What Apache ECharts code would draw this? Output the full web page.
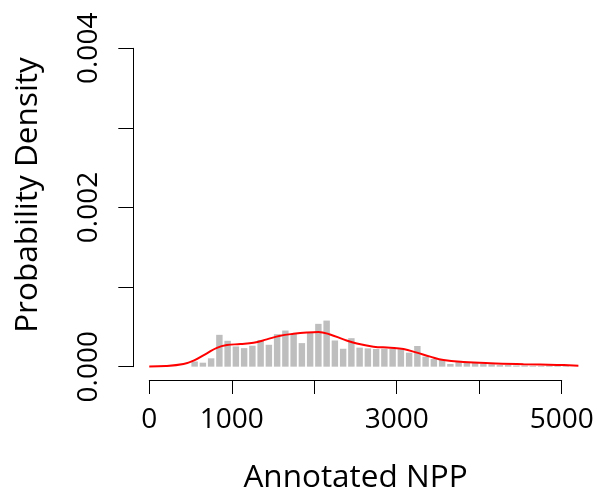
<!DOCTYPE html>
<html>
<head>
<meta charset="utf-8">
<script src="https://cdn.jsdelivr.net/npm/echarts@6/dist/echarts.min.js"></script>
<style>
html,body{margin:0;padding:0;background:#fff;}
#chart{width:603px;height:495px;}
</style>
</head>
<body>
<div id="chart"></div>
<script>
// Histogram bins (start of each 100-wide bin) and their densities
const binStarts = [500,600,700,800,900,1000,1100,1200,1300,1400,1500,1600,1700,1800,1900,2000,2100,2200,2300,2400,2500,2600,2700,2800,2900,3000,3100,3200,3300,3400,3500,3600,3700,3800,3900,4000,4100,4200,4300,4400,4500,4600,4700,4800,4900,5000];
const binDensity = [0.000065,0.00005,0.000105,0.0004,0.000325,0.000254,0.000233,0.000263,0.000335,0.000275,0.000408,0.000454,0.000413,0.000296,0.000434,0.000538,0.000579,0.000329,0.000225,0.000358,0.000239,0.00023,0.000222,0.000226,0.000222,0.000218,0.000176,0.00026,0.000126,0.000097,0.000084,0.000034,0.000072,0.00005,0.00005,0.000035,0.00003,0.00002,0.00002,0.000015,0.000015,0.00001,0.00001,0.000015,0.00001,0.000008];
const binWidth = 100;

// Kernel density curve
const densityX = [0,200,415,537,699,820,941,1102,1264,1425,1587,1748,1910,2051,2192,2354,2516,2718,2920,3082,3244,3405,3567,3809,4132,4536,4940,5202];
const densityY = [0.000002,0.000008,0.000034,0.000075,0.000168,0.000237,0.000271,0.000284,0.0003,0.000343,0.000388,0.000413,0.00043,0.000437,0.000405,0.000343,0.00029,0.000251,0.000238,0.000222,0.000176,0.000126,0.000084,0.000059,0.000043,0.000031,0.000022,0.000013];

const xTicks = [0,1000,2000,3000,4000,5000];
const xTickLabels = ['0','1000','','3000','','5000'];
const yTicks = [0,0.001,0.002,0.003,0.004];
const yTickLabels = ['0.000','','0.002','','0.004'];

// Plot-region limits (R-style 4% expansion around data range)
const xLim = [-208, 5408];
const yLim = [-0.00016, 0.00416];

const FONT = 'Open Sans';
const chart = echarts.init(document.getElementById('chart'), null, {renderer:'canvas'});

const histData = binStarts.map((s,i)=>[s, binDensity[i]]);
const curveData = densityX.map((x,i)=>[x, densityY[i]]);

function lookup(ticks, labels, v){
  for (let i=0;i<ticks.length;i++){ if (Math.abs(ticks[i]-v) < 1e-9) return labels[i]; }
  return '';
}

chart.setOption({
  animation:false,
  backgroundColor:'#ffffff',
  grid:[
    {left:132.1, right:7.6, top:35.6, bottom:115.6, containLabel:false, outerBoundsMode:'none'},
    {left:149.3, right:41.3, top:48.3, bottom:128.3, containLabel:false, outerBoundsMode:'none'}
  ],
  xAxis:[
    {gridIndex:0, type:'value', min:xLim[0], max:xLim[1], show:false},
    {
      gridIndex:1, type:'value', min:0, max:5000, interval:1000,
      offset:13.3,
      axisLine:{show:true, onZero:false, lineStyle:{color:'#000', width:1}},
      axisTick:{show:true, length:14, lineStyle:{color:'#000', width:1}},
      splitLine:{show:false},
      axisLabel:{interval:0, color:'#000', fontFamily:FONT, fontSize:28, margin:26,
        formatter:v=>lookup(xTicks, xTickLabels, v)},
      name:'Annotated NPP', nameLocation:'middle', nameGap:82,
      nameTextStyle:{color:'#000', fontFamily:FONT, fontSize:31.5}
    }
  ],
  yAxis:[
    {gridIndex:0, type:'value', min:yLim[0], max:yLim[1], show:false},
    {
      gridIndex:1, type:'value', min:0, max:0.004, interval:0.001,
      offset:16,
      axisLine:{show:true, onZero:false, lineStyle:{color:'#000', width:1}},
      axisTick:{show:true, length:15, lineStyle:{color:'#000', width:1}},
      splitLine:{show:false},
      axisLabel:{rotate:90, color:'#000', fontFamily:FONT, fontSize:28, margin:30,
        formatter:v=>lookup(yTicks, yTickLabels, v)},
      name:'Probability Density', nameLocation:'middle', nameGap:89, nameRotate:90,
      nameTextStyle:{color:'#000', fontFamily:FONT, fontSize:31.5, padding:[0,0,0,25]}
    }
  ],
  series:[
    {
      type:'custom',
      xAxisIndex:0, yAxisIndex:0,
      data:histData,
      clip:false,
      renderItem:function(params, api){
        const x0 = api.value(0), y = api.value(1);
        const p0 = api.coord([x0, y]);
        const p1 = api.coord([x0 + binWidth, 0]);
        return {type:'rect',
          shape:{x:p0[0]+0.9, y:p0[1], width:(p1[0]-p0[0])-1.8, height:p1[1]-p0[1]},
          style:{fill:'#BEBEBE'}};
      }
    },
    {
      type:'line',
      xAxisIndex:0, yAxisIndex:0,
      data:curveData,
      smooth:0.4,
      clip:false,
      showSymbol:false,
      lineStyle:{color:'#FF0000', width:2}
    }
  ]
});
</script>
</body>
</html>
